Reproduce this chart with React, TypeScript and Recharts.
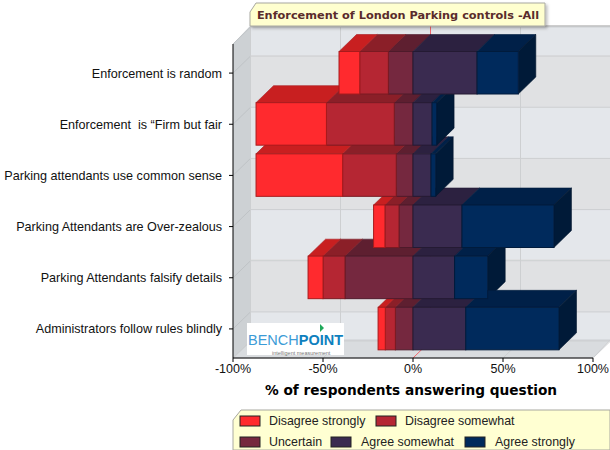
import React from "react";
import { BarChart, Bar, XAxis, YAxis, CartesianGrid } from "recharts";

const categories = [
  "Enforcement is random",
  "Enforcement  is \u201CFirm but fair",
  "Parking attendants use common sense",
  "Parking Attendants are Over-zealous",
  "Parking Attendants falsify details",
  "Administrators follow rules blindly",
];
const disagreeStrongly = [-11.5, -39.1, -48.1, -6.3, -8.3, -4];
const disagreeSomewhat = [-15.9, -37.7, -29.8, -7.8, -12.2, -5.6];
const uncertain = [-13.7, -10.4, -9.3, -7.8, -37.8, -9.8];
const agreeSomewhat = [35.6, 10.6, 10, 27.2, 23.1, 29.3];
const agreeStrongly = [22.9, 2.5, 2.6, 51.1, 18.4, 51.8];
const xTicks = [-100, -50, 0, 50, 100];

const data = categories.map((name, i) => ({
  name,
  ds: disagreeStrongly[i],
  dw: disagreeSomewhat[i],
  un: uncertain[i],
  as: agreeSomewhat[i],
  ag: agreeStrongly[i],
}));

// stacking order from zero outward
const series = [
  { key: "un", label: "Uncertain", front: "#75283F", top: "#5E1F30", edge: "#4E1A2A" },
  { key: "dw", label: "Disagree somewhat", front: "#B52633", top: "#8B1F28", edge: "#7A1A22" },
  { key: "ds", label: "Disagree strongly", front: "#FF2A2E", top: "#C81F20", edge: "#A81A1C" },
  { key: "as", label: "Agree somewhat", front: "#3A2B50", top: "#2C2140", edge: "#241A33" },
  { key: "ag", label: "Agree strongly", front: "#002A5C", top: "#002048", edge: "#001B3C" },
];

const DX = 17.5;
const DY = 17;
const BAR = 42.5;
const poly = (pts: number[][]) => pts.map((p) => p.join(",")).join(" ");

const Depth = (props: any) => {
  const { x, y, width, height, s, isEnd } = props;
  const x0 = Math.min(x, x + width);
  const x1 = Math.max(x, x + width);
  return (
    <g>
      <polygon
        points={poly([[x0, y], [x1, y], [x1 + DX, y - DY], [x0 + DX, y - DY]])}
        fill={s.top}
        stroke={s.edge}
        strokeWidth={0.6}
      />
      {isEnd && (
        <polygon
          points={poly([[x1, y], [x1 + DX, y - DY], [x1 + DX, y + height - DY], [x1, y + height]])}
          fill="#001A38"
          stroke="#00142C"
          strokeWidth={0.6}
        />
      )}
    </g>
  );
};

const Front = (props: any) => {
  const { x, y, width, height, s } = props;
  const x0 = Math.min(x, x + width);
  return <rect x={x0} y={y} width={Math.abs(width)} height={height} fill={s.front} stroke={s.edge} strokeWidth={1} />;
};

const CategoryTick = (props: any) => {
  const { x, y, payload } = props;
  return (
    <text x={x} y={y} dy={4.5} textAnchor="end" fontFamily={font} fontSize={12.6} fill="#111" xmlSpace="preserve">
      {payload.value}
    </text>
  );
};

const legendRows = [
  [
    { key: "ds", sx: 240, tx: 269 },
    { key: "dw", sx: 376, tx: 405 },
  ],
  [
    { key: "un", sx: 240, tx: 269 },
    { key: "as", sx: 331, tx: 361 },
    { key: "ag", sx: 465, tx: 495 },
  ],
];

const bands = [
  [26, 55, "#E3E6EA"],
  [55, 107, "#E0E1E3"],
  [107, 158, "#E4E7EB"],
  [158, 209, "#E0E1E3"],
  [209, 259, "#E4E7EB"],
  [259, 312, "#E0E1E3"],
  [312, 340, "#E4E7EB"],
] as const;

const font = "'Liberation Sans', Arial, sans-serif";
const gridColor = "#CDCFD1";
const zeroColor = "#F2666B";

export default function App() {
  return (
    <div style={{ position: "absolute", left: 0, top: 0, width: 610, height: 450, background: "#fff", overflow: "hidden" }}>
      <svg width={610} height={450} style={{ position: "absolute", left: 0, top: 0 }}>
        {bands.map(([a, b, c], i) => (
          <rect key={i} x={250} y={a} width={360} height={b - a} fill={c} />
        ))}
        <polygon points="233,44 250,26 250,340 233,358" fill="#CDD1D4" />
        <polygon points="233,358 593,358 610,340 250,340" fill="#D9DCDF" stroke="#C4C6C8" strokeWidth={0.7} />
        <line x1={250} y1={26} x2={610} y2={26} stroke="#9A9A9A" />
      </svg>
      <div style={{ position: "absolute", left: 0, top: 0 }}>
        <BarChart
          width={610}
          height={450}
          data={data}
          layout="vertical"
          stackOffset="sign"
          barSize={BAR}
          barGap={-BAR}
          margin={{ top: 44, right: 17, bottom: 52, left: 0 }}
        >
          <CartesianGrid
            horizontal={(p: any) => (
              <g key={p.key}>
                <line x1={p.x1} x2={p.x1 + DX} y1={p.y1} y2={p.y1 - DY} stroke="#BFC3C6" strokeWidth={1} />
                <line x1={p.x1 + DX} x2={p.x2 + DX} y1={p.y1 - DY} y2={p.y2 - DY} stroke={gridColor} strokeWidth={1} />
              </g>
            )}
            vertical={(p: any) => {
              const c = p.index === 2 ? zeroColor : gridColor;
              return (
                <g key={p.key}>
                  <line x1={p.x1 + DX} x2={p.x2 + DX} y1={p.y1 - DY - 1} y2={p.y2 - DY} stroke={c} strokeWidth={1} />
                  <line x1={p.x2} x2={p.x2 + DX} y1={p.y2} y2={p.y2 - DY} stroke={c} strokeWidth={1} />
                </g>
              );
            }}
          />
          <XAxis
            type="number"
            domain={[-100, 100]}
            ticks={xTicks}
            tickFormatter={(v: number) => `${v}%`}
            tick={{ fill: "#111", fontSize: 12.5, fontFamily: font }}
            tickSize={4}
            tickMargin={2}
            interval={0}
            stroke="#000"
            height={40}
            label={{
              value: "% of respondents answering question",
              position: "insideBottom",
              offset: 3,
              dx: -2,
              style: { fontFamily: "'DejaVu Sans', Verdana, sans-serif", fontWeight: 700, fontSize: 13.7, fill: "#000" },
            }}
          />
          <YAxis
            type="category"
            dataKey="name"
            width={233}
            padding={{ top: 3.5, bottom: 3.5 }}
            interval={0}
            tickSize={4}
            tickMargin={7}
            stroke="#000"
            tick={<CategoryTick />}
          />
          {series.map((s) => (
            <Bar
              key={"d" + s.key}
              dataKey={s.key}
              stackId="depth"
              isAnimationActive={false}
              shape={(p: any) => <Depth {...p} s={s} isEnd={s.key === "ag"} />}
            />
          ))}
          {series.map((s) => (
            <Bar
              key={"f" + s.key}
              dataKey={s.key}
              stackId="front"
              isAnimationActive={false}
              shape={(p: any) => <Front {...p} s={s} />}
            />
          ))}
        </BarChart>
      </div>
      <svg width={610} height={450} style={{ position: "absolute", left: 0, top: 0 }}>
        <defs>
          <filter id="sh" x="-5%" y="-20%" width="110%" height="150%">
            <feDropShadow dx={2} dy={2} stdDeviation={1.5} floodColor="#000" floodOpacity={0.25} />
          </filter>
        </defs>
        <polygon points="250,12 256,3 545,3 545,26 250,26" fill="#FFFFCF" stroke="#A8A8A0" strokeWidth={1} filter="url(#sh)" />
        <text x={398} y={19} textAnchor="middle" fontFamily="'DejaVu Sans', Verdana, sans-serif" fontWeight={700} fontSize={11.3} fill="#5A2C2C">
          Enforcement of London Parking controls -All
        </text>
        <rect x={247} y={323} width={97} height={32} fill="#fff" />
        <polygon points="320,324 324,328 320,332" fill="#1FA85A" />
        <text x={248} y={345} fontFamily={font} fontSize={15} fill="#3C9BD6" textLength={95} lengthAdjust="spacingAndGlyphs">
          BENCH<tspan fontWeight={700} fill="#0E80BE">POINT</tspan>
        </text>
        <text x={272} y={354.5} fontFamily={font} fontSize={5.5} fill="#777">intelligent measurement</text>
        <polygon points="233,420 241,410 610,410 610,450 233,450" fill="#FFFFD2" stroke="#A8A8A0" strokeWidth={1} />
        {legendRows.map((row, r) =>
          row.map((it) => {
            const s = series.find((q) => q.key === it.key)!;
            const y = 416 + r * 21;
            return (
              <g key={it.key}>
                <rect x={it.sx} y={y} width={20} height={10} fill={s.front} stroke="#222" strokeWidth={1} />
                <text x={it.tx} y={y + 9} fontFamily={font} fontSize={12.4} fill="#222">
                  {s.label}
                </text>
              </g>
            );
          })
        )}
      </svg>
    </div>
  );
}
